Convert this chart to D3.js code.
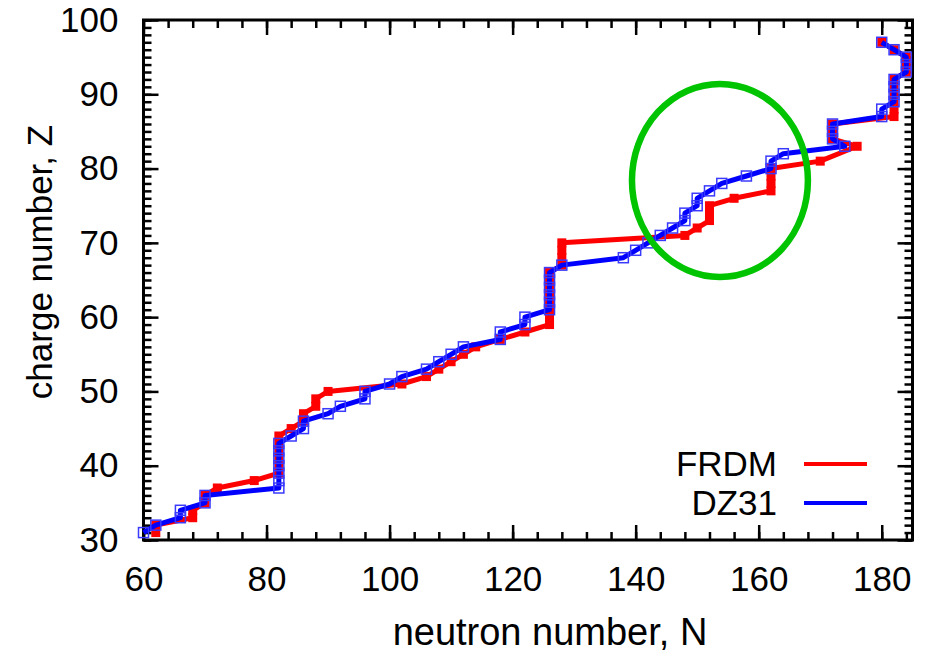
<!DOCTYPE html>
<html>
<head>
<meta charset="utf-8">
<script src="https://cdn.jsdelivr.net/npm/d3@7"></script>
<style>
  body { margin: 0; background: #fff; }
  text { font-family: "Liberation Sans", Arial, Helvetica, sans-serif; }
</style>
</head>
<body>
<div class="chart"></div>
<script>
// r-process path: [N, Z]
var frdm = [[62,31],[62,32],[68,33],[68,34],[70,35],[70,36],[72,37],[78,38],[82,39],[82,40],[82,41],[82,42],[82,43],[82,44],
  [84,45],[86,46],[86,47],[88,48],[88,49],[90,50],[102,51],[106,52],[108,53],[110,54],[112,55],[114,56],[118,57],[122,58],
  [126,59],[126,60],[126,61],[126,62],[126,63],[126,64],[126,65],[126,66],[128,67],[128,68],[128,69],[128,70],[148,71],
  [150,72],[152,73],[152,74],[152,75],[156,76],[162,77],[162,78],[162,79],[162,80],[170,81],[176,83],[172,84],[172,85],
  [172,86],[182,87],[182,88],[182,89],[182,90],[182,91],[182,92],[184,93],[184,94],[184,95],[182,96],[180,97]];
var dz31 = [[60,31],[62,32],[66,33],[66,34],[70,35],[70,36],[82,37],[82,38],[82,39],[82,40],[82,41],[82,42],[82,43],
  [84,44],[86,45],[86,46],[90,47],[92,48],[96,49],[96,50],[100,51],[102,52],[106,53],[108,54],[110,55],[112,56],[118,57],
  [118,58],[122,59],[122,60],[126,61],[126,62],[126,63],[126,64],[126,65],[126,66],[128,67],[138,68],[140,69],[142,70],
  [144,71],[146,72],[148,73],[148,74],[150,75],[150,76],[152,77],[154,78],[158,79],[162,80],[162,81],[164,82],[174,83],
  [172,84],[172,85],[172,86],[180,87],[180,88],[182,89],[182,90],[182,91],[182,92],[184,93],[184,94],[184,95],[182,96],[180,97]];
var xTicks = [60, 80, 100, 120, 140, 160, 180];
var yTicks = [30, 40, 50, 60, 70, 80, 90, 100];
// highlighted region (ellipse), in data units
var ringCenter = [153.7, 78.4], ringRadius = [14.3, 13.0];

var width = 927, height = 654;
var mLeft = 143.5, mRight = 912.5, mTop = 20, mBottom = 540;

var x = d3.scaleLinear().domain([60, 185]).range([mLeft, mRight]);
var y = d3.scaleLinear().domain([30, 100]).range([mBottom, mTop]);

var svg = d3.select(".chart").append("svg")
    .attr("width", width)
    .attr("height", height);

function styleAxis(g) {
  g.select(".domain").remove();
  g.selectAll("line").attr("stroke", "#000").attr("stroke-width", 2.5);
  g.selectAll("text").attr("font-size", 35).attr("fill", "#000")
      .attr("font-family", "'Liberation Sans', Arial, sans-serif");
}

// minor ticks (inward, mirrored)
var xMinor = d3.range(60, 186, 4), yMinor = d3.range(30, 101, 1);
svg.append("g").attr("transform", "translate(0," + mBottom + ")")
    .call(d3.axisBottom(x).tickValues(xMinor).tickSize(-8).tickFormat("")).call(styleAxis);
svg.append("g").attr("transform", "translate(0," + mTop + ")")
    .call(d3.axisTop(x).tickValues(xMinor).tickSize(-8).tickFormat("")).call(styleAxis);
svg.append("g").attr("transform", "translate(" + mLeft + ",0)")
    .call(d3.axisLeft(y).tickValues(yMinor).tickSize(-8).tickFormat("")).call(styleAxis);
svg.append("g").attr("transform", "translate(" + mRight + ",0)")
    .call(d3.axisRight(y).tickValues(yMinor).tickSize(-8).tickFormat("")).call(styleAxis);

// major ticks with labels
svg.append("g").attr("transform", "translate(0," + mBottom + ")")
    .call(d3.axisBottom(x).tickValues(xTicks).tickSize(-15).tickPadding(26)).call(styleAxis);
svg.append("g").attr("transform", "translate(0," + mTop + ")")
    .call(d3.axisTop(x).tickValues(xTicks).tickSize(-15).tickFormat("")).call(styleAxis);
svg.append("g").attr("transform", "translate(" + mLeft + ",0)")
    .call(d3.axisLeft(y).tickValues(yTicks).tickSize(-15).tickPadding(25)).call(styleAxis);
svg.append("g").attr("transform", "translate(" + mRight + ",0)")
    .call(d3.axisRight(y).tickValues(yTicks).tickSize(-15).tickFormat("")).call(styleAxis);

// frame
svg.append("rect")
    .attr("x", mLeft).attr("y", mTop)
    .attr("width", mRight - mLeft).attr("height", mBottom - mTop)
    .attr("fill", "none").attr("stroke", "#000").attr("stroke-width", 3);

var line = d3.line()
    .x(function(d) { return x(d[0]); })
    .y(function(d) { return y(d[1]); });

// FRDM
svg.append("path").datum(frdm)
    .attr("d", line).attr("fill", "none")
    .attr("stroke", "#ff0000").attr("stroke-width", 5).attr("stroke-linejoin", "round");
svg.selectAll(".frdm").data(frdm).enter().append("rect")
    .attr("class", "frdm")
    .attr("x", function(d) { return x(d[0]) - 4.5; })
    .attr("y", function(d) { return y(d[1]) - 4.5; })
    .attr("width", 9).attr("height", 9)
    .attr("fill", "#ff0000");

// DZ31
svg.append("path").datum(dz31)
    .attr("d", line).attr("fill", "none")
    .attr("stroke", "#0000ff").attr("stroke-width", 5).attr("stroke-linejoin", "round");
svg.selectAll(".dz31").data(dz31).enter().append("rect")
    .attr("class", "dz31")
    .attr("x", function(d) { return x(d[0]) - 5; })
    .attr("y", function(d) { return y(d[1]) - 5; })
    .attr("width", 10).attr("height", 10)
    .attr("fill", "none").attr("stroke", "#3a3aff").attr("stroke-width", 1.5);

// green ring
svg.append("ellipse")
    .attr("cx", x(ringCenter[0])).attr("cy", y(ringCenter[1]))
    .attr("rx", x(ringCenter[0] + ringRadius[0]) - x(ringCenter[0]))
    .attr("ry", y(ringCenter[1]) - y(ringCenter[1] + ringRadius[1]))
    .attr("fill", "none").attr("stroke", "#00c400").attr("stroke-width", 6.5);

// legend
var legend = [["FRDM", "#ff0000"], ["DZ31", "#0000ff"]];
legend.forEach(function(l, i) {
  var ly = 464 + i * 39;
  svg.append("text").attr("x", 777).attr("y", ly + 12)
      .attr("text-anchor", "end").attr("font-size", 35).text(l[0]);
  svg.append("line").attr("x1", 804).attr("x2", 867).attr("y1", ly).attr("y2", ly)
      .attr("stroke", l[1]).attr("stroke-width", 4);
});

// axis titles
svg.append("text").attr("x", 550).attr("y", 645)
    .attr("text-anchor", "middle").attr("font-size", 38).text("neutron number, N");
svg.append("text")
    .attr("transform", "translate(52,262) rotate(-90)")
    .attr("text-anchor", "middle").attr("font-size", 35).text("charge number, Z");
</script>
</body>
</html>
